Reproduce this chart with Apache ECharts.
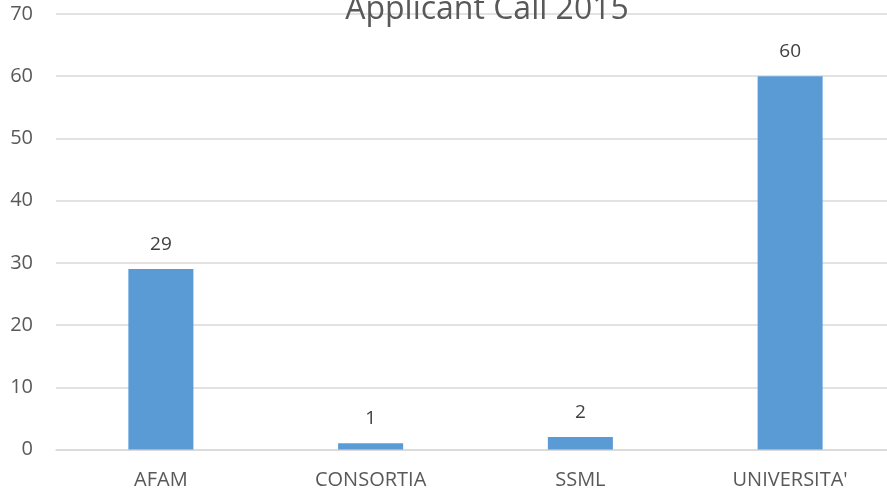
<!DOCTYPE html>
<html><head><meta charset="utf-8">
<script src="https://cdn.jsdelivr.net/npm/echarts@6/dist/echarts.min.js"></script>
<style>html,body{margin:0;padding:0;background:#fff}#c{width:887px;height:493px}</style>
</head><body><div id="c"></div>
<script>
const categories = ["AFAM", "CONSORTIA", "SSML", "UNIVERSITA'"];
const values = [29, 1, 2, 60];
const yTicks = [0, 10, 20, 30, 40, 50, 60, 70];
const titleText = "Applicant Call 2015";

const font = "'Open Sans', 'Liberation Sans', sans-serif";
const chart = echarts.init(document.getElementById('c'), null, {renderer: 'canvas'});
chart.setOption({
  animation: false,
  title: {text: titleText, left: 482, textAlign: 'center', top: -11,
    textStyle: {fontFamily: font, fontSize: 32, fontWeight: 'normal', color: '#595959'}},
  grid: {left: 56, width: 839, top: 14, bottom: 43.5, containLabel: false, outerBoundsMode: 'none'},
  xAxis: {type: 'category', data: categories,
    axisLine: {show: true, lineStyle: {color: '#d9d9d9', width: 1.5}},
    axisTick: {show: false},
    axisLabel: {color: '#595959', fontFamily: font, fontSize: 20, margin: 21}},
  yAxis: {type: 'value', min: yTicks[0], max: yTicks[yTicks.length-1], interval: 10,
    axisLine: {show: false}, axisTick: {show: false},
    splitLine: {lineStyle: {color: '#d9d9d9', width: 1.5}},
    axisLabel: {color: '#595959', fontFamily: font, fontSize: 20, margin: 23}},
  series: [{type: 'bar', data: values, barWidth: '31%',
    itemStyle: {color: '#5b9bd5'},
    label: {show: true, position: 'top', distance: 15, color: '#404040', fontFamily: font, fontSize: 19}}]
});
</script></body></html>
